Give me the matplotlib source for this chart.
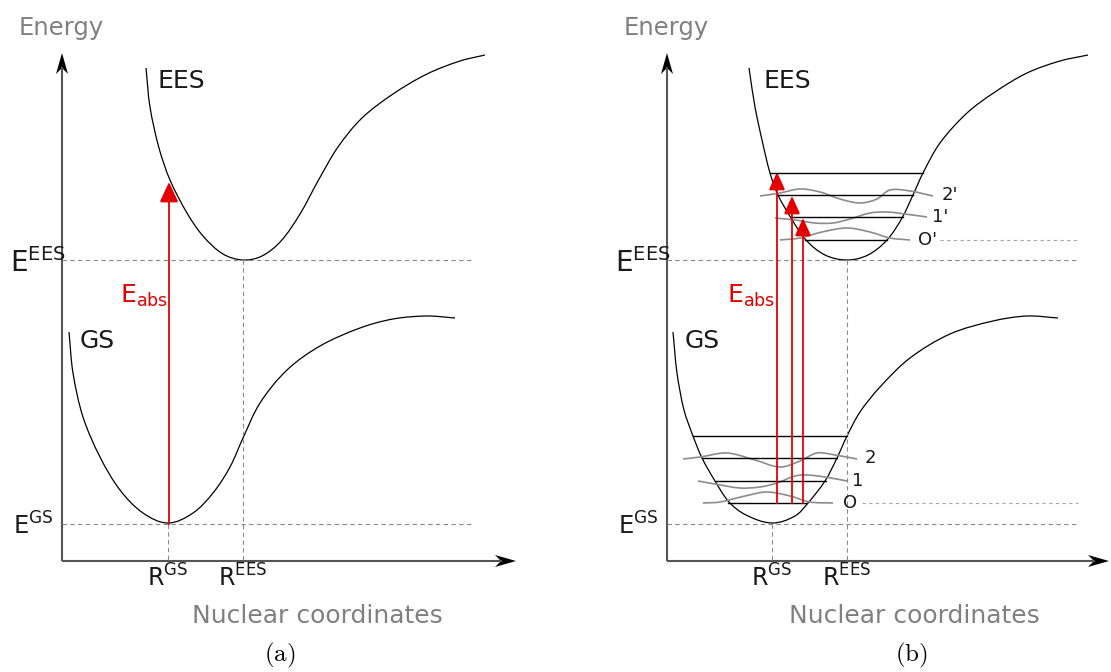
import numpy as np
import matplotlib
matplotlib.use("Agg")
import matplotlib.pyplot as plt
from matplotlib.path import Path
from matplotlib.patches import PathPatch, FancyArrowPatch, Polygon

# Diagram frame: x to the right, y downwards (same units for both panels)
W, H = 1111, 672

# ---- panel (a): potential curves ----
GS_A = [(69, 332), (73, 373), (83, 417), (100, 457), (120, 490), (143, 513),
        (168, 523), (193, 513), (213, 493), (230, 467), (243, 438), (260, 403),
        (287, 370), (320, 346), (360, 328), (393, 319), (427, 316), (455, 318)]
EES_A = [(146, 68), (150, 107), (159, 148), (170, 180), (187, 213), (203, 236),
         (223, 254), (243, 260), (262, 256), (281, 241), (300, 214), (318, 181),
         (338, 147), (362, 118), (393, 94), (427, 74), (460, 61), (485, 55)]

# ---- panel (b): potential curves ----
GS_B = [(673, 332), (677, 373), (684, 410), (693, 436), (702, 458), (715, 481),
        (729, 502), (746, 515), (772, 523), (795, 516), (808, 503), (825, 481),
        (837, 458), (847, 436), (860, 412), (880, 387), (910, 358), (950, 334),
        (993, 321), (1027, 316), (1058, 318)]
EES_B = [(749, 68), (755, 107), (762, 140), (770, 173), (778, 195), (791, 218),
         (806, 240), (825, 255), (847, 260), (868, 255), (887, 240), (902, 218),
         (913, 195), (923, 173), (940, 143), (967, 113), (995, 92), (1027, 73),
         (1060, 61), (1088, 55)]

# vibrational levels (y, x_left, x_right)
GS_LEVEL_Y = [503, 481, 458, 436]
GS_LEVEL_X0 = [728, 716, 702, 693]
GS_LEVEL_X1 = [807, 826, 837, 847]
EES_LEVEL_Y = [240, 217, 195, 173]
EES_LEVEL_X0 = [805, 791, 778, 770]
EES_LEVEL_X1 = [887, 903, 913, 923]

# level labels
GS_LEVEL_LABELS = ["O", "1", "2"]
GS_LABEL_X = [850, 858, 870]
EES_LEVEL_LABELS = ["O'", "1'", "2'"]
EES_LABEL_X = [928, 940, 950]

# wave functions drawn on the levels
GS_WAVES = [
    [(703, 503), (720, 502), (745, 496), (767, 492), (790, 496), (810, 502), (833, 503)],
    [(698, 481), (715, 484), (740, 488), (760, 487), (777, 483), (795, 476),
     (807, 475), (825, 477), (847, 481)],
    [(683, 459), (700, 457), (727, 453), (755, 460), (780, 467), (800, 461),
     (817, 453), (835, 455), (857, 459)],
]
EES_WAVES = [
    [(780, 240), (800, 238), (822, 232), (847, 228), (870, 232), (890, 238), (910, 240)],
    [(775, 218), (795, 220), (815, 223), (833, 223), (850, 219), (870, 213),
     (887, 212), (905, 214), (927, 217)],
    [(760, 196), (780, 193), (800, 189), (820, 192), (840, 199), (860, 203),
     (877, 199), (890, 190), (910, 191), (933, 196)],
]

# absorption arrows
ABS_A_X, ABS_A_Y0, ABS_A_Y1 = 169, 524, 182
ABS_B_X = [777, 792, 803]
ABS_B_Y0 = 503
ABS_B_Y1 = [172, 196, 218]

# axes frames: origin x, origin y, x tip, y tip
AXES = [(62, 561, 516, 53), (667, 561, 1109, 53)]
E_GS, E_EES = 524, 260
R_GS = [168, 772]
R_EES = [243, 847]
DASH_END = [474, 1078]

RED = "#e50000"
GRAY_TXT = "#808080"
INK = "#1a1a1a"

fig = plt.figure(figsize=(W / 100, H / 100), dpi=100)
ax = fig.add_axes([0, 0, 1, 1])
ax.set_xlim(0, W)
ax.set_ylim(H, 0)
ax.axis("off")


def smooth(pts, **kw):
    # smooth curve through the points: cubic Bezier segments whose handles
    # follow the neighbour direction, scaled by the segment length
    p = np.asarray(pts, float)
    n = len(p)
    tang = np.zeros_like(p)
    for i in range(n):
        d = p[min(i + 1, n - 1)] - p[max(i - 1, 0)]
        tang[i] = d / np.hypot(*d)
    verts, codes = [p[0]], [Path.MOVETO]
    for i in range(n - 1):
        L = np.hypot(*(p[i + 1] - p[i])) / 3
        verts += [p[i] + tang[i] * L, p[i + 1] - tang[i + 1] * L, p[i + 1]]
        codes += [Path.CURVE4] * 3
    ax.add_patch(PathPatch(Path(verts, codes), fill=False, **kw))


def stealth(xt, yt, ux, uy, length=21, half=6, notch=15):
    # notched arrow head pointing along (ux, uy), tip at (xt, yt)
    px, py = -uy, ux
    head = [(xt, yt),
            (xt - ux * length + px * half, yt - uy * length + py * half),
            (xt - ux * notch, yt - uy * notch),
            (xt - ux * length - px * half, yt - uy * length - py * half)]
    ax.add_patch(Polygon(head, closed=True, color="black", lw=0))


def arrow(x0, y0, x1, y1, color, hl, hw, lw):
    ax.add_patch(FancyArrowPatch((x0, y0), (x1, y1),
                                 arrowstyle=f"-|>,head_length={hl},head_width={hw}",
                                 mutation_scale=10, color=color, lw=lw,
                                 shrinkA=0, shrinkB=0, joinstyle="miter"))


dash = dict(color="#8a8a8a", lw=0.8, ls=(0, (4, 3)))
dots = dict(color="#a8a8a8", lw=0.8, ls=(0, (3, 3)))

for k, (x0, y0, xt, yt) in enumerate(AXES):
    # energy axis and coordinate axis
    ax.plot([x0, x0], [y0, yt + 14], color="#555555", lw=1.5, solid_capstyle="butt")
    ax.plot([x0, xt - 14], [y0, y0], color="#555555", lw=1.5, solid_capstyle="butt")
    stealth(x0, yt, 0, -1)
    stealth(xt, y0, 1, 0)

    ax.text(x0 - 1, 28, "Energy", color=GRAY_TXT, fontsize=17.5, ha="center", va="center")
    ax.text((x0 + xt) / 2 + 28 - (2 if k else 0), 616, "Nuclear coordinates",
            color=GRAY_TXT, fontsize=18, ha="center", va="center")
    ax.text([280, 911][k], 655, r"$\mathrm{(%s)}$" % "ab"[k], fontsize=18,
            math_fontfamily="cm", ha="center", va="center")

    # reference energies and equilibrium positions
    ax.plot([x0, DASH_END[k]], [E_GS, E_GS], **dash)
    ax.plot([x0, DASH_END[k]], [E_EES, E_EES], **dash)
    ax.plot([R_GS[k], R_GS[k]], [E_GS, y0], **dash)
    ax.plot([R_EES[k], R_EES[k]], [E_EES, y0], **dash)

    ax.text(x0 - 49, E_GS + 11, r"E$^{\mathregular{GS}}$", fontsize=17.5,
            va="baseline", color=INK)
    ax.text(x0 - 52, E_EES + 12, r"E$^{\mathregular{EES}}$", fontsize=20,
            va="baseline", color=INK)
    ax.text(R_GS[k], 587, r"R$^{\mathregular{GS}}$", fontsize=17, ha="center",
            va="baseline", color=INK)
    ax.text(R_EES[k], 587, r"R$^{\mathregular{EES}}$", fontsize=17, ha="center",
            va="baseline", color=INK)

    ax.text(x0 + 96, 81, "EES", fontsize=18, va="center", color=INK)
    ax.text(x0 + 18, 341, "GS", fontsize=18, va="center", color=INK)
    ax.text(x0 + 58 + (2 if k else 0), 303, r"E$_{\mathregular{abs}}$", color=RED,
            fontsize=18, va="baseline")

curve = dict(color="black", lw=0.9)
smooth(GS_A, **curve)
smooth(EES_A, **curve)
smooth(GS_B, **curve)
smooth(EES_B, **curve)

# panel (a) vertical transition
ax.plot([ABS_A_X, ABS_A_X], [ABS_A_Y0, ABS_A_Y1 + 14], color=RED, lw=1.3)
arrow(ABS_A_X, ABS_A_Y1 + 20, ABS_A_X, ABS_A_Y1, RED, 1.25, 0.58, 1.3)

# panel (b) vibrational structure
for y, xa, xb in zip(GS_LEVEL_Y, GS_LEVEL_X0, GS_LEVEL_X1):
    ax.plot([xa, xb], [y, y], color="black", lw=1.0)
for y, xa, xb in zip(EES_LEVEL_Y, EES_LEVEL_X0, EES_LEVEL_X1):
    ax.plot([xa, xb], [y, y], color="black", lw=1.0)

for w in GS_WAVES + EES_WAVES:
    smooth(w, color="#8c8c8c", lw=1.2)

for lab, x, y in zip(GS_LEVEL_LABELS, GS_LABEL_X, GS_LEVEL_Y):
    ax.text(x, y, lab, fontsize=13, ha="center", va="center", color=INK)
for lab, x, y in zip(EES_LEVEL_LABELS, EES_LABEL_X, EES_LEVEL_Y):
    ax.text(x, y, lab, fontsize=13, ha="center", va="center", color=INK)

ax.plot([862, 1078], [GS_LEVEL_Y[0], GS_LEVEL_Y[0]], **dots)
ax.plot([940, 1078], [EES_LEVEL_Y[0], EES_LEVEL_Y[0]], **dots)

for x, yt in zip(ABS_B_X, ABS_B_Y1):
    ax.plot([x, x], [ABS_B_Y0, yt + 12], color=RED, lw=1.3)
    arrow(x, yt + 18, x, yt, RED, 1.1, 0.5, 1.3)

fig.savefig("out.png", dpi=100)
